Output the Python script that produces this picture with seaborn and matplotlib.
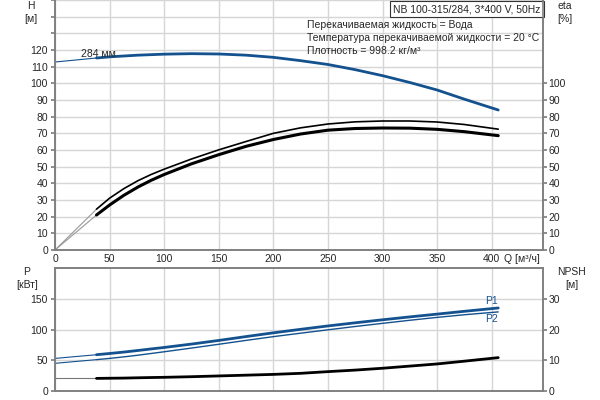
import seaborn as sns
import pandas as pd
import matplotlib.pyplot as plt

# Kennlinie NB 100-315/284
q = [38, 50, 63, 76, 88, 100, 125, 150, 175, 200, 225, 250, 275, 300, 325, 350, 375, 406]
h = [115.2, 115.9, 116.4, 116.9, 117.2, 117.5, 117.8, 117.6, 116.9, 115.6, 113.6, 111.3,
     108.2, 104.6, 100.5, 96.0, 90.5, 84.0]
eta_1 = [24.5, 31.1, 36.8, 41.6, 45.3, 48.5, 54.6, 60.1, 65.1, 70.0, 73.3, 75.6,
         76.9, 77.4, 77.4, 76.8, 75.3, 72.5]
eta_2 = [21.0, 27.0, 32.8, 37.8, 41.8, 45.3, 51.7, 57.2, 62.2, 66.3, 69.6, 71.9,
         72.9, 73.2, 73.1, 72.4, 71.0, 68.6]
p1 = [59.0, 61.0, 63.3, 65.9, 68.4, 70.8, 76.3, 82.2, 88.5, 94.6, 100.3, 105.8,
      110.9, 115.8, 120.5, 125.0, 129.6, 135.0]
p2 = [51.0, 53.0, 55.5, 58.2, 61.0, 63.8, 69.8, 76.0, 82.3, 88.4, 94.0, 99.5,
      104.9, 110.0, 115.0, 119.7, 124.0, 128.6]
npsh = [4.1, 4.15, 4.2, 4.3, 4.38, 4.45, 4.65, 4.9, 5.15, 5.4, 5.75, 6.3,
        6.8, 7.4, 8.1, 8.8, 9.7, 10.85]

# Anlaufstück (dünn) ab Q = 0
q_start = [0, 38]
h_start = [112.8, 115.2]
eta_1_start = [0, 24.5]
eta_2_start = [0, 21.0]
p1_start = [53.0, 59.0]
p2_start = [45.0, 51.0]
npsh_start = [4.1, 4.1]

x_ticks = [0, 50, 100, 150, 200, 250, 300, 350, 400]
h_ticks = list(range(0, 151, 10))
eta_ticks = list(range(0, 101, 10))
p_ticks = [0, 50, 100, 150]
npsh_ticks = [0, 10, 20, 30]

df = pd.DataFrame({'Q': q, 'H': h, 'eta1': eta_1, 'eta2': eta_2,
                   'P1': p1, 'P2': p2, 'NPSH': npsh})
df0 = pd.DataFrame({'Q': q_start, 'H': h_start, 'eta1': eta_1_start, 'eta2': eta_2_start,
                    'P1': p1_start, 'P2': p2_start, 'NPSH': npsh_start})

sns.set_theme(style="whitegrid")
plt.rcParams['font.family'] = ['Liberation Sans', 'DejaVu Sans']
plt.rcParams['font.size'] = 7.5

blue = '#13518f'
grid = '#d6d6d6'
frame = '#808080'
fs = 7.5

fig = plt.figure(figsize=(6, 4), dpi=100)
ax = fig.add_axes([0.0917, 0.375, 0.8133, 0.625])
ax_p = fig.add_axes([0.0917, 0.0225, 0.8133, 0.3075])

for a in (ax, ax_p):
    a.set_xlim(0, 447)
    a.set_xticks(x_ticks)
    a.grid(True, color=grid, linewidth=1)
    for s in a.spines.values():
        s.set_color(frame)
        s.set_linewidth(1.2)

# --- oben: H und eta ---
ax.set_ylim(0, 150)
ax.set_yticks(h_ticks)
ax.set_yticklabels([str(v) if v <= 120 else '' for v in h_ticks])
ax.spines['top'].set_visible(False)
ax.tick_params(axis='y', left=True, length=3, pad=2, color=frame, labelsize=fs)
ax.tick_params(axis='x', length=0, pad=3, labelsize=fs)

sns.lineplot(data=df0, x='Q', y='H', ax=ax, color=blue, linewidth=0.8)
sns.lineplot(data=df, x='Q', y='H', ax=ax, color=blue, linewidth=2)
sns.lineplot(data=df0, x='Q', y='eta1', ax=ax, color='#999999', linewidth=0.8)
sns.lineplot(data=df0, x='Q', y='eta2', ax=ax, color='#999999', linewidth=0.8)
sns.lineplot(data=df, x='Q', y='eta1', ax=ax, color='black', linewidth=1.2)
sns.lineplot(data=df, x='Q', y='eta2', ax=ax, color='black', linewidth=2.2)
ax.set_xlabel('')
ax.set_ylabel('')

ax_eta = ax.twinx()
ax_eta.set_ylim(0, 150)
ax_eta.set_yticks(eta_ticks)
ax_eta.grid(False)
ax_eta.tick_params(axis='y', right=True, length=3, pad=1, color=frame, labelsize=fs)
for s in ax_eta.spines.values():
    s.set_color(frame)
    s.set_linewidth(1.2)
ax_eta.spines['top'].set_visible(False)

ax.text(24, 117.6, '284 мм', va='center', ha='left', fontsize=fs)
ax.text(0.994, -0.034, 'Q [м³/ч]', transform=ax.transAxes, ha='right', va='center', fontsize=fs)
ax.text(0.9955, 0.984, 'NB 100-315/284, 3*400 V, 50Hz', transform=ax.transAxes,
        ha='right', va='top', fontsize=fs,
        bbox=dict(boxstyle='square,pad=0.3', facecolor='white', edgecolor='#333333', linewidth=0.8))
ax.text(0.516, 0.90, 'Перекачиваемая жидкость = Вода', transform=ax.transAxes, va='center', fontsize=fs)
ax.text(0.516, 0.848, 'Температура перекачиваемой жидкости = 20 °C', transform=ax.transAxes,
        va='center', fontsize=fs)
ax.text(0.516, 0.796, 'Плотность = 998.2 кг/м³', transform=ax.transAxes, va='center', fontsize=fs)

# --- unten: P und NPSH ---
ax_p.set_ylim(0, 200)
ax_p.set_yticks(p_ticks)
ax_p.tick_params(axis='y', left=True, length=3, pad=2, color=frame, labelsize=fs)
ax_p.tick_params(axis='x', length=0, labelbottom=False)

sns.lineplot(data=df0, x='Q', y='P1', ax=ax_p, color=blue, linewidth=0.8)
sns.lineplot(data=df0, x='Q', y='P2', ax=ax_p, color=blue, linewidth=0.8)
sns.lineplot(data=df, x='Q', y='P1', ax=ax_p, color=blue, linewidth=2)
sns.lineplot(data=df, x='Q', y='P2', ax=ax_p, color=blue, linewidth=1)
ax_p.set_xlabel('')
ax_p.set_ylabel('')
ax_p.text(400, p1[-1] + 3, 'P1', color=blue, ha='center', va='bottom', fontsize=fs)
ax_p.text(400, p2[-1] - 3, 'P2', color=blue, ha='center', va='top', fontsize=fs)

ax_n = ax_p.twinx()
ax_n.set_ylim(0, 40)
ax_n.set_yticks(npsh_ticks)
ax_n.grid(False)
ax_n.tick_params(axis='y', right=True, length=3, pad=1, color=frame, labelsize=fs)
for s in ax_n.spines.values():
    s.set_color(frame)
    s.set_linewidth(1.2)
sns.lineplot(data=df0, x='Q', y='NPSH', ax=ax_n, color='#777777', linewidth=0.8)
sns.lineplot(data=df, x='Q', y='NPSH', ax=ax_n, color='black', linewidth=2)
ax_n.set_xlabel('')
ax_n.set_ylabel('')

# Achsentitel
fig.text(0.052, 0.998, 'H\n[м]', ha='center', va='top', fontsize=fs, linespacing=1.4)
fig.text(0.942, 0.998, 'eta\n[%]', ha='center', va='top', fontsize=fs, linespacing=1.4)
fig.text(0.045, 0.333, 'P\n[кВт]', ha='center', va='top', fontsize=fs, linespacing=1.4)
fig.text(0.953, 0.333, 'NPSH\n[м]', ha='center', va='top', fontsize=fs, linespacing=1.4)

plt.savefig('out.png', dpi=100)
